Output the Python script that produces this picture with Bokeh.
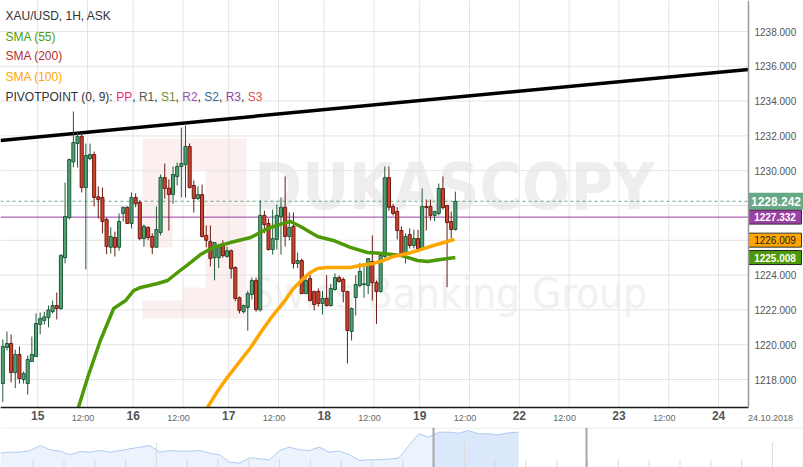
import numpy as np
from bokeh.plotting import figure
from bokeh.layouts import column
from bokeh.models import Range1d, FixedTicker, Label, Span, PrintfTickFormatter, LinearAxis
from bokeh.embed import file_html
from bokeh.resources import INLINE
from bokeh.core.properties import value

# ---------------- data ----------------
opens = [1217.77, 1219.84, 1220.07, 1218.40, 1219.44, 1218.00, 1217.77, 1219.03, 1219.32, 1221.16,
         1221.40, 1221.56, 1221.90, 1222.25, 1222.08, 1225.00, 1227.30, 1230.50, 1231.56, 1231.97,
         1229.03, 1230.70, 1230.93, 1228.50, 1228.46, 1227.20, 1225.60, 1226.16, 1225.60, 1227.54,
         1227.90, 1226.97, 1228.46, 1228.17, 1226.10, 1226.74, 1226.22, 1225.60, 1226.45, 1229.60,
         1229.00, 1228.63, 1229.66, 1230.24, 1230.36, 1231.39, 1229.15, 1228.40, 1228.63, 1226.28,
         1225.93, 1225.00, 1225.00, 1225.80, 1225.07, 1225.40, 1224.44, 1222.70, 1221.90, 1222.14,
         1222.89, 1223.69, 1222.00, 1227.43, 1226.97, 1225.47, 1226.05, 1227.37, 1227.90, 1226.22,
         1226.80, 1224.67, 1224.84, 1222.94, 1223.80, 1223.06, 1223.06, 1222.37, 1222.66, 1222.25,
         1223.17, 1223.86, 1223.75, 1223.06, 1220.76, 1222.71, 1223.40, 1223.46, 1223.40, 1224.78,
         1223.57, 1223.06, 1225.07, 1229.60, 1227.94, 1227.66, 1226.56, 1225.24, 1226.33, 1225.70,
         1226.10, 1225.53, 1227.94, 1227.94, 1227.43, 1227.54, 1228.98, 1228.00, 1227.08, 1226.62]
highs = [1220.30, 1220.76, 1220.59, 1219.72, 1219.90, 1218.46, 1219.38, 1220.47, 1221.80, 1221.85,
         1221.90, 1222.25, 1222.54, 1223.00, 1225.20, 1229.32, 1230.70, 1233.40, 1232.20, 1232.20,
         1231.56, 1231.56, 1231.10, 1229.10, 1229.03, 1227.30, 1226.74, 1226.50, 1227.54, 1227.90,
         1227.94, 1228.75, 1228.70, 1228.30, 1226.90, 1226.80, 1226.40, 1227.94, 1229.78, 1230.41,
         1229.50, 1230.24, 1230.47, 1232.48, 1232.60, 1231.56, 1229.44, 1229.10, 1229.20, 1226.85,
         1226.85, 1225.87, 1225.80, 1226.00, 1225.64, 1225.47, 1224.50, 1222.77, 1222.30, 1223.10,
         1223.86, 1223.86, 1228.29, 1227.70, 1227.25, 1227.77, 1228.06, 1228.46, 1229.67, 1227.60,
         1227.60, 1225.30, 1224.95, 1223.86, 1224.10, 1223.10, 1223.23, 1223.10, 1224.00, 1223.50,
         1224.10, 1223.98, 1223.86, 1223.10, 1222.14, 1224.00, 1224.70, 1224.70, 1224.95, 1226.28,
         1223.69, 1225.18, 1230.24, 1230.24, 1228.10, 1227.90, 1226.80, 1226.40, 1226.68, 1226.62,
         1226.60, 1228.98, 1228.34, 1228.34, 1227.70, 1229.26, 1229.67, 1228.00, 1227.66, 1228.80]
lows = [1216.70, 1219.67, 1217.83, 1217.50, 1217.77, 1217.77, 1217.14, 1219.03, 1219.30, 1220.60,
        1221.16, 1221.00, 1221.80, 1221.45, 1222.00, 1224.67, 1227.20, 1230.20, 1230.18, 1228.75,
        1224.32, 1230.60, 1227.94, 1227.25, 1226.40, 1225.20, 1225.24, 1225.07, 1225.40, 1227.08,
        1226.97, 1226.68, 1227.90, 1226.00, 1225.64, 1226.00, 1225.20, 1225.60, 1226.28, 1228.40,
        1226.56, 1228.10, 1229.15, 1228.46, 1228.46, 1228.98, 1227.60, 1228.30, 1226.16, 1225.60,
        1224.50, 1223.70, 1224.40, 1225.00, 1225.00, 1223.80, 1222.50, 1221.80, 1221.80, 1220.80,
        1222.60, 1221.90, 1221.90, 1226.40, 1225.41, 1225.18, 1225.47, 1225.18, 1225.64, 1226.00,
        1224.38, 1224.40, 1222.90, 1222.89, 1222.48, 1221.97, 1222.20, 1221.74, 1222.20, 1222.20,
        1223.10, 1223.57, 1222.43, 1218.92, 1220.24, 1221.68, 1223.30, 1222.70, 1222.90, 1222.54,
        1221.20, 1223.00, 1225.00, 1227.70, 1227.43, 1226.05, 1225.07, 1224.67, 1225.53, 1225.53,
        1225.47, 1225.50, 1226.56, 1227.14, 1227.10, 1227.43, 1227.77, 1223.30, 1226.10, 1226.56]
closes = [1219.90, 1220.07, 1218.40, 1219.44, 1218.06, 1218.34, 1219.15, 1219.44, 1221.22, 1221.50,
          1221.60, 1222.00, 1222.25, 1222.08, 1225.13, 1227.37, 1230.64, 1231.62, 1231.97, 1229.03,
          1230.87, 1230.93, 1228.46, 1228.34, 1227.08, 1225.64, 1226.22, 1225.60, 1227.08, 1227.90,
          1226.97, 1228.46, 1228.10, 1226.10, 1226.80, 1226.16, 1225.60, 1226.62, 1229.61, 1228.98,
          1228.63, 1229.78, 1230.24, 1230.41, 1231.39, 1229.03, 1228.40, 1228.63, 1226.22, 1226.00,
          1224.95, 1225.87, 1225.64, 1225.12, 1225.40, 1224.38, 1222.66, 1221.97, 1222.25, 1222.94,
          1223.69, 1222.02, 1227.43, 1226.90, 1225.47, 1226.10, 1227.43, 1227.90, 1226.22, 1226.74,
          1224.67, 1224.84, 1222.94, 1223.69, 1222.54, 1222.31, 1222.37, 1222.66, 1222.25, 1223.23,
          1223.86, 1223.63, 1223.06, 1220.82, 1222.08, 1223.46, 1224.21, 1223.50, 1224.95, 1223.57,
          1223.06, 1225.13, 1229.60, 1227.90, 1227.54, 1226.56, 1225.24, 1226.22, 1225.70, 1226.10,
          1225.53, 1227.94, 1227.88, 1227.43, 1227.66, 1228.98, 1227.88, 1227.02, 1226.62, 1228.24]

# moving averages (bar index, value)
sma55_idx = [18.2, 20.6, 23.5, 26.7, 29.6, 31.5, 33.2, 37.3, 39.7, 42.1, 45.2, 47.6, 50.7, 54.8, 59.7,
             63.8, 67.6, 69.3, 71.7, 75.8, 79.6, 83.7, 87.8, 91.7, 95.8, 99.9, 102.3, 105.4, 109.0]
sma55_val = [1216.39, 1218.23, 1220.24, 1222.08, 1222.54, 1223.11, 1223.29, 1223.52, 1223.69, 1224.15,
             1224.72, 1225.18, 1225.59, 1225.87, 1226.16, 1226.68, 1226.97, 1227.08, 1226.79, 1226.22,
             1225.99, 1225.59, 1225.30, 1225.24, 1225.13, 1224.84, 1224.78, 1224.90, 1225.01]
sma100_idx = [49.3, 51.5, 53.9, 56.3, 59.7, 62.1, 64.5, 67.6, 70.0, 72.4, 74.1, 75.8, 78.2, 82.1, 83.7,
              86.1, 89.3, 91.7, 94.1, 97.5, 99.9, 103.7, 107.1, 108.8]
sma100_val = [1216.39, 1217.25, 1218.06, 1218.80, 1219.84, 1220.70, 1221.51, 1222.43, 1223.23, 1223.80,
              1224.15, 1224.38, 1224.44, 1224.44, 1224.44, 1224.55, 1224.67, 1224.84, 1225.07, 1225.24,
              1225.41, 1225.70, 1225.93, 1226.05]

# trend line anchors (bar index, price)
trend_idx = [-0.55, 179.6]
trend_val = [1231.74, 1235.82]

last_price = 1228.242
pivot_pp = 1227.332
sma100_last = 1226.009
sma55_last = 1225.008

# axes
price_ticks = [1218, 1220, 1222, 1224, 1226, 1228, 1230, 1232, 1234, 1236, 1238]
day_ticks = [8.4, 31.4, 54.4, 77.4, 100.4, 124.4, 148.4, 172.4]
day_labels = ["15", "16", "17", "18", "19", "22", "23", "24"]
noon_ticks = [20.4, 43.4, 66.4, 89.4, 112.4, 136.4, 160.4]
noon_label = "12:00"
end_date_label = "24.10.2018"

# navigator (overview strip) heights, sampled evenly
nav_vals = [14.3, 15.3, 15.3, 17.0, 22.0, 17.7, 16.3, 12.7, 16.0, 15.3, 17.0, 15.3, 17.0, 18.7, 20.3,
            22.0, 15.3, 17.0, 16.3, 16.3, 17.0, 14.3, 12.7, 5.3, 4.3, 9.7, 8.7, 7.7, 17.0, 20.3,
            17.7, 17.0, 20.3, 15.3, 16.3, 13.0, 7.0, 7.7, 7.7, 8.3, 9.5, 22.0, 33.7, 30.3, 35.3,
            35.3, 34.3, 37.0, 33.7, 33.7, 32.7, 34.7, 35.3]

# ---------------- geometry helpers ----------------
X0_PX, BAR_PX = 2.3, 4.152
Y_REF, Y_REF_PX, PX_PER_UNIT = 1238.0, 31.0, 17.4
W, H_MAIN = 803, 427
AXIS_X_PX, AXIS_Y_PX = 748, 407


def px2x(px):
    return (px - X0_PX) / BAR_PX


def py2y(py):
    return Y_REF - (py - Y_REF_PX) / PX_PER_UNIT


FONT = "Liberation Sans"
WM_FONT = "DejaVu Sans Condensed, Liberation Sans, sans-serif"

p = figure(width=W, height=H_MAIN, x_range=Range1d(px2x(0), px2x(W)),
           y_range=Range1d(py2y(H_MAIN), py2y(0)), output_backend="svg",
           toolbar_location=None, y_axis_location="right", x_axis_location="below",
           min_border=0)
p.outline_line_color = None
p.background_fill_color = "white"
p.border_fill_color = "white"
p.grid.visible = False

x_left, x_axis = px2x(0), px2x(AXIS_X_PX)
y_axis, y_top = py2y(AXIS_Y_PX), py2y(0)

# ---------------- watermark (drawn first, below everything) ----------------
logo_pink = "#fcefef"
p.quad(left=[px2x(142)], right=[px2x(246)], bottom=[py2y(318)], top=[py2y(138)],
       fill_color=logo_pink, line_color=None)
p.quad(left=[px2x(172), px2x(142)], right=[px2x(205), px2x(182)],
       bottom=[py2y(287), py2y(300)], top=[py2y(169), py2y(247)],
       fill_color="white", line_color=None)
p.text(x=[px2x(454)], y=[py2y(186)], text=["DUKASCOPY"], text_align="center",
       text_baseline="middle", text_font=value(WM_FONT),
       text_font_style="bold", text_font_size="64px", text_color="#eeeeee")
p.text(x=[px2x(448)], y=[py2y(293)], text=["Swiss Banking Group"], text_align="center",
       text_baseline="middle", text_font=value(WM_FONT),
       text_font_size="42px", text_color="#f1f1f1")

# ---------------- grid ----------------
grid_x = sorted(day_ticks + noon_ticks)
p.segment(x0=grid_x, y0=y_axis, x1=grid_x, y1=y_top, line_color="#e4e4e4", line_width=1)
p.segment(x0=x_left, y0=price_ticks, x1=x_axis, y1=price_ticks, line_color="#e4e4e4",
          line_width=1)

# ---------------- levels ----------------
p.segment(x0=[x_left], y0=[pivot_pp], x1=[x_axis], y1=[pivot_pp], line_color="#9c3fa6",
          line_width=1)
p.segment(x0=[x_left], y0=[last_price], x1=[x_axis], y1=[last_price], line_color="#6aa886",
          line_width=1, line_dash="3 3")

# trend line
p.line(trend_idx, trend_val, line_color="black", line_width=3.5)

# ---------------- candles ----------------
o = np.array(opens)
c = np.array(closes)
h = np.array(highs)
l = np.array(lows)
idx = np.arange(len(o))
up = c >= o
top = np.maximum(o, c)
bot = np.minimum(o, c)
wick_col = np.where(up, "#1e5a36", "#6a1a12")
body_fill = np.where(up, "#52a077", "#d2432b")
body_line = np.where(up, "#1e5a36", "#6a1a12")
p.segment(x0=idx, y0=l, x1=idx, y1=h, line_color=list(wick_col), line_width=1)
p.vbar(x=idx, width=0.74, top=top, bottom=bot, fill_color=list(body_fill),
       line_color=list(body_line), line_width=1)

# moving averages
p.line(sma55_idx, sma55_val, line_color="#4e9a06", line_width=3.5, line_join="round")
p.line(sma100_idx, sma100_val, line_color="#ffa500", line_width=3.5, line_join="round")

# ---------------- price tags on the right ----------------
tags = [(last_price, "#67a886", None, "white", "12px", "bold", 8.5, 803),
        (pivot_pp, "#9c3fa6", "#333333", "white", "10px", "bold", 7.0, 801),
        (sma100_last, "#ffa500", "#333333", "#222222", "10px", "normal", 7.0, 801),
        (sma55_last, "#4e9a06", "#222222", "white", "10px", "bold", 7.0, 801)]
for val, bg, border, tc, fs, fw, half_px, right_px in tags:
    hh = half_px / PX_PER_UNIT
    p.quad(left=[px2x(AXIS_X_PX)], right=[px2x(right_px)], bottom=[val - hh], top=[val + hh],
           fill_color=bg, line_color=border, line_width=1)
    p.text(x=[px2x((AXIS_X_PX + right_px) / 2)], y=[val], text=["%.3f" % val],
           text_align="center", text_baseline="middle", text_font=value(FONT),
           text_font_size=fs, text_font_style=fw, text_color=tc)

# ---------------- axes (fixed at the chart edges) ----------------
p.yaxis.fixed_location = x_axis
p.yaxis.bounds = (y_axis, y_top)
p.yaxis.ticker = FixedTicker(ticks=price_ticks)
p.yaxis.formatter = PrintfTickFormatter(format="%.3f")
p.yaxis.major_label_overrides = {1226: "", 1228: ""}
p.yaxis.major_tick_out = 0
p.yaxis.major_tick_in = 0
p.yaxis.minor_tick_line_color = None
p.yaxis.axis_line_color = "#9a9a9a"
p.yaxis.axis_line_width = 1.5
p.yaxis.major_label_standoff = 6
p.yaxis.major_label_text_font = FONT
p.yaxis.major_label_text_font_size = "10px"
p.yaxis.major_label_text_color = "#555555"

p.xaxis.fixed_location = y_axis
p.xaxis.bounds = (x_left, x_axis)
p.xaxis.ticker = FixedTicker(ticks=day_ticks)
p.xaxis.major_label_overrides = {t: lab for t, lab in zip(day_ticks, day_labels)}
p.xaxis.major_tick_out = 0
p.xaxis.major_tick_in = 0
p.xaxis.minor_tick_line_color = None
p.xaxis.axis_line_color = "#1a1a1a"
p.xaxis.axis_line_width = 1.5
p.xaxis.major_label_standoff = 3
p.xaxis.major_label_text_font = FONT
p.xaxis.major_label_text_font_size = "12px"
p.xaxis.major_label_text_font_style = "bold"
p.xaxis.major_label_text_color = "#555555"

noon_pos = [round(t - 4.5 / BAR_PX, 3) for t in noon_ticks]
end_pos = round(px2x(770), 3)
labels2 = {t: noon_label for t in noon_pos}
labels2[end_pos] = end_date_label
ax2 = LinearAxis(fixed_location=y_axis, ticker=FixedTicker(ticks=noon_pos + [end_pos]),
                 major_label_overrides=labels2, axis_line_color=None, major_tick_in=0,
                 major_tick_out=0, minor_tick_line_color=None, major_label_standoff=5,
                 major_label_text_font=FONT, major_label_text_font_size="9px",
                 major_label_text_color="#666666")
p.add_layout(ax2, "below")

# ---------------- legend texts ----------------
legend_rows = [("XAU/USD, 1H, ASK", "#333333", 15.7), ("SMA (55)", "#4e9a06", 36.0),
               ("SMA (200)", "#b03030", 55.7), ("SMA (100)", "#ffa500", 76.0)]
for txt, col, ypx in legend_rows:
    p.add_layout(Label(x=px2x(5), y=py2y(ypx), text=txt, text_color=col, text_font=FONT,
                       text_font_size="12px", text_baseline="middle"))
pivot_parts = [("PIVOTPOINT (0, 9): ", "#333333", 5.0), ("PP", "#f0287a", 115.7),
               (",", "#333333", 131.7), ("R1", "#5a5a48", 138.4), (",", "#333333", 153.7),
               ("S1", "#7a8c2a", 160.4), (",", "#333333", 175.1), ("R2", "#9b55b0", 181.8),
               (",", "#333333", 197.1), ("S2", "#2f6e8c", 203.8), (",", "#333333", 218.5),
               ("R3", "#8e44ad", 225.2), (",", "#333333", 240.5), ("S3", "#e05050", 247.2)]
for txt, col, xpx in pivot_parts:
    p.add_layout(Label(x=px2x(xpx), y=py2y(96), text=txt, text_color=col, text_font=FONT,
                       text_font_size="12px", text_baseline="middle"))

# ---------------- navigator ----------------
nav = figure(width=W, height=40, x_range=Range1d(0, W), y_range=Range1d(0, 40),
             output_backend="svg", toolbar_location=None, x_axis_location=None,
             y_axis_location=None, min_border=0)
nav.outline_line_color = None
nav.grid.visible = False
nav_x = np.linspace(0, 518, len(nav_vals))
nav_y = np.array(nav_vals)
split = 433
mask_a = nav_x <= split
xa = np.append(nav_x[mask_a], split)
ya = np.append(nav_y[mask_a], np.interp(split, nav_x, nav_y))
xb = np.insert(nav_x[~mask_a], 0, split)
yb = np.insert(nav_y[~mask_a], 0, np.interp(split, nav_x, nav_y))
nav.varea(x=xa, y1=0, y2=ya, fill_color="#edf3fc")
nav.varea(x=xb, y1=0, y2=yb, fill_color="#dbe7fa")
nav.line(nav_x, nav_y, line_color="#afcaf1", line_width=1)
tick_x = 32.7 + 30.8 * np.arange(26)
tall = np.isin(np.arange(26), [4, 14, 24])
nav.segment(x0=tick_x, y0=0, x1=tick_x, y1=np.where(tall, 25, 8), line_color="#d9d9d9",
            line_width=1)
nav.add_layout(Span(location=39.5, dimension="width", line_color="#e6e6e6", line_width=1))
nav.add_layout(Span(location=433, dimension="height", line_color="#a8a8a8", line_width=2))
nav.add_layout(Span(location=586, dimension="height", line_color="#a8a8a8", line_width=2))

layout = column(p, nav, spacing=0)

open("out.html", "w").write(file_html(layout, INLINE))
